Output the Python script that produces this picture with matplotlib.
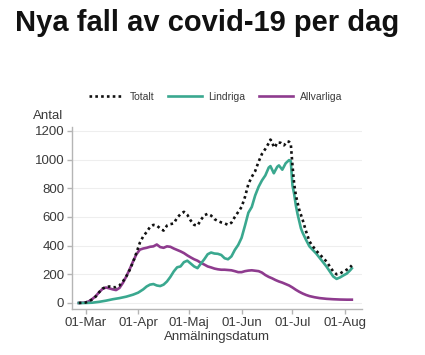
import matplotlib
matplotlib.use("Agg")
import matplotlib.pyplot as plt
import numpy as np

plt.rcParams['font.family'] = ['Liberation Sans', 'DejaVu Sans']

start = np.datetime64('2020-03-01')

# dagar efter 1 mars
days_tot = [-4, 0, 2, 4, 6, 8, 10, 12, 14, 16, 18, 20, 22, 24, 26, 28, 30, 32, 34, 36,
            38, 40, 42, 44, 46, 48, 50, 52, 54, 56, 58, 60, 62, 64, 66, 68, 70, 72, 74, 76,
            78, 80, 82, 84, 86, 88, 90, 92, 94, 96, 98, 100, 102, 104, 106, 108, 109, 110,
            111, 112, 113, 115, 117, 119, 120, 121, 122, 123, 124, 125, 126, 128, 130, 132,
            134, 136, 138, 140, 142, 144, 146, 148, 150, 152, 154, 156, 157]
totalt = [0, 3, 12, 25, 45, 75, 100, 112, 115, 110, 110, 122, 150, 185, 230, 285, 350, 420, 465, 495,
          530, 545, 540, 520, 505, 540, 550, 555, 595, 620, 636, 615, 575, 545, 540, 580, 612, 622, 610, 585,
          572, 562, 555, 545, 560, 600, 635, 670, 740, 830, 880, 920, 985, 1040, 1075, 1115, 1140, 1125,
          1085, 1095, 1120, 1118, 1100, 1128, 1125, 1110, 960, 830, 750, 700, 650, 580, 500, 430,
          395, 365, 340, 315, 290, 255, 220, 200, 205, 220, 232, 250, 262]

days_lin = [-4, 0, 4, 8, 12, 16, 20, 24, 28, 31, 34, 36, 38, 40, 42, 44, 46, 48, 50, 52,
            54, 56, 58, 60, 62, 64, 66, 68, 70, 72, 74, 76, 78, 80, 82, 84, 86, 88, 90, 92,
            94, 96, 98, 100, 102, 104, 106, 108, 109, 111, 113, 114, 116, 118, 120, 121, 122, 123,
            124, 125, 126, 127, 128, 130, 132, 134, 136, 138, 140, 142, 144, 146, 148, 150, 152,
            154, 156, 157]
lindriga = [0, 0, 2, 8, 16, 26, 34, 44, 58, 72, 95, 115, 128, 132, 122, 118, 128, 150, 182, 220,
            249, 255, 285, 295, 275, 255, 243, 275, 305, 340, 352, 345, 343, 335, 312, 305, 325, 370, 405, 455,
            540, 630, 670, 750, 810, 855, 890, 945, 955, 905, 950, 960, 930, 975, 997, 990, 820, 760,
            680, 620, 570, 520, 490, 440, 395, 370, 345, 315, 285, 255, 220, 185, 168, 178, 192,
            205, 228, 242]

days_allv = [-4, 0, 2, 4, 6, 8, 10, 12, 14, 16, 18, 20, 22, 24, 26, 28, 30, 32, 34, 36,
             38, 40, 42, 44, 46, 48, 50, 52, 54, 56, 58, 60, 62, 64, 66, 68, 70, 72, 74, 76,
             78, 80, 82, 84, 86, 88, 90, 92, 94, 96, 98, 100, 102, 104, 106, 108, 110, 112,
             114, 116, 118, 120, 122, 124, 126, 128, 130, 132, 135, 138, 142, 146, 150, 154, 157]
allvarliga = [0, 3, 12, 28, 48, 75, 98, 108, 102, 95, 90, 105, 140, 185, 235, 290, 340, 372, 380, 385,
              392, 395, 408, 390, 385, 395, 392, 380, 370, 360, 348, 332, 318, 305, 295, 280, 268, 255, 248, 240,
              235, 232, 232, 230, 228, 222, 215, 215, 222, 226, 228, 225, 222, 212, 195, 182, 172, 160,
              150, 142, 132, 122, 108, 92, 78, 66, 56, 48, 40, 34, 29, 26, 24, 23, 23]

tick_days = [0, 31, 61, 92, 122, 153]
tick_labels = ['01-Mar', '01-Apr', '01-Maj', '01-Jun', '01-Jul', '01-Aug']
yticks = [0, 200, 400, 600, 800, 1000, 1200]

def to_dates(d):
    return start + np.array(d).astype('timedelta64[D]')

fig = plt.figure(figsize=(4.25, 3.55), dpi=100)
ax = fig.add_axes([0.1694, 0.1296, 0.6824, 0.5127])

ax.plot(to_dates(days_allv), allvarliga, color='#8e3b8e', lw=1.9, label='Allvarliga')
ax.plot(to_dates(days_lin), lindriga, color='#3aa88f', lw=1.9, label='Lindriga')
ax.plot(to_dates(days_tot), totalt, color='#111111', lw=1.9, ls=(0, (1, 1.2)), label='Totalt')

ax.set_xlim(start - np.timedelta64(8, 'D'), start + np.timedelta64(163, 'D'))
ax.set_ylim(-42, 1228)
ax.set_xticks(to_dates(tick_days))
ax.set_xticklabels(tick_labels)
ax.set_yticks(yticks)
ax.grid(axis='y', color='#eeeeee', lw=0.8)
ax.set_axisbelow(True)
for s in ['top', 'right']:
    ax.spines[s].set_visible(False)
for s in ['left', 'bottom']:
    ax.spines[s].set_color('#b5b5b5')
    ax.spines[s].set_linewidth(1.0)
ax.tick_params(colors='#b5b5b5', labelcolor='#3a3a3a', labelsize=9.5, length=3.5, width=1.0, pad=2)
ax.set_xlabel('Anmälningsdatum', fontsize=9.5, color='#3a3a3a', labelpad=2)

fig.text(0.078, 0.673, 'Antal', fontsize=9.5, color='#3a3a3a', va='center', ha='left')
fig.text(0.035, 0.935, 'Nya fall av covid-19 per dag', fontsize=21, fontweight='bold',
         color='#111111', va='center', ha='left')

h, l = ax.get_legend_handles_labels()
fig.legend(h[::-1], l[::-1], loc='center', bbox_to_anchor=(0.507, 0.727), ncol=3, frameon=False,
           fontsize=7.5, handlelength=3.3, handletextpad=0.6, columnspacing=1.3,
           labelcolor='#3a3a3a')

fig.savefig('out.png', dpi=100)
